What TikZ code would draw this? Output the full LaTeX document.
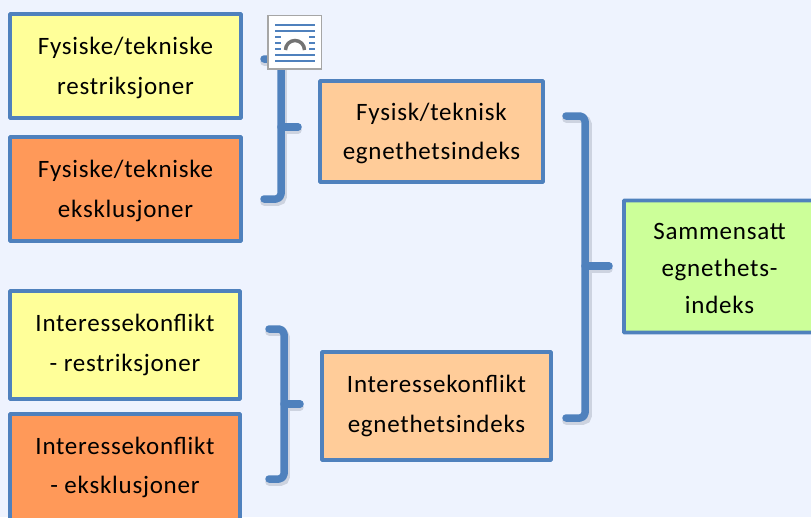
\documentclass[tikz,border=0pt]{standalone}
\usepackage{fontspec}
\setmainfont[LetterSpace=3]{Carlito}
\definecolor{bgc}{HTML}{EEF3FE}
\definecolor{edgec}{HTML}{4F81BD}
\definecolor{yel}{HTML}{FFFF99}
\definecolor{ora}{HTML}{FF9959}
\definecolor{pea}{HTML}{FFCC99}
\definecolor{gre}{HTML}{CCFF99}
\definecolor{shad}{HTML}{CDD3E0}
\tikzset{
  x=1pt,y=-1pt,
  boxn/.style={draw=edgec,line width=3.7pt,rounded corners=0.6pt,inner sep=0pt,align=center,
    font=\fontsize{25}{39.5}\selectfont,text=black},
  brk/.style={draw=edgec,line width=7.5pt,line cap=round,line join=round,rounded corners=5pt},
  brkshadow/.style={draw=shad,line width=7.5pt,line cap=round,rounded corners=5pt},
  ticon/.style={draw=edgec,line width=1.4pt},
}
\newcommand{\lift}{\rule{0pt}{21pt}}
\newcommand{\bx}[7]{\node[boxn,fill=#6,minimum width=#4-#2 pt,minimum height=#5-#3 pt] (#1) at ({(#2+#4)/2},{(#3+#5)/2}) {#7};}
\begin{document}
\begin{tikzpicture}
\useasboundingbox (0,0) rectangle (811,517);
\clip (0,0) rectangle (811,517);
\fill[bgc] (0,0) rectangle (811,517);
\bx{a}{10}{14}{241}{118}{yel}{\lift Fysiske/tekniske\\restriksjoner}
\bx{b}{10}{137}{241}{241}{ora}{\lift Fysiske/tekniske\\eksklusjoner}
\bx{c}{10}{291}{240}{399}{yel}{Interessekonflikt\\- restriksjoner}
\bx{d}{10}{414}{240}{521}{ora}{Interessekonflikt\\- eksklusjoner}
\bx{e}{320}{81}{543}{182}{pea}{\lift Fysisk/teknisk\\egnethetsindeks}
\bx{f}{322}{352}{551}{460}{pea}{Interessekonflikt\\egnethetsindeks}
\node[boxn,fill=gre,minimum width=191pt,minimum height=132pt,
  font=\fontsize{25}{37}\selectfont] (g) at (719.5,266.5) {\lift Sammensatt\\egnethets-\\indeks};
% brackets
\coordinate (b1t) at (264,59); \coordinate (b1b) at (264,199);
\coordinate (b2t) at (269,329); \coordinate (b2b) at (269,479);
\coordinate (b3t) at (566,116); \coordinate (b3b) at (566,418);
\draw[brkshadow] (264,62) -- (283,62) -- (283,202) -- (264,202);
\draw[brkshadow] (283,130) -- (298,130);
\draw[brkshadow] (269,332) -- (286,332) -- (286,482) -- (269,482);
\draw[brkshadow] (286,407) -- (300,407);
\draw[brkshadow] (566,119) -- (588,119) -- (588,421) -- (566,421);
\draw[brkshadow] (588,269) -- (609,269);
\draw[brk] (b1t) -- (281,59) -- (281,199) -- (b1b);
\draw[brk] (281,127) -- (298,127);
\draw[brk] (b2t) -- (284,329) -- (284,479) -- (b2b);
\draw[brk] (284,404) -- (300,404);
\draw[brk] (b3t) -- (585,116) -- (585,418) -- (b3b);
\draw[brk] (585,266) -- (609,266);
% layout-options icon
\draw[draw=black!35,fill=white,line width=1.6pt] (268,15.5) rectangle (321.5,69);
\draw[ticon] (275,25) -- (315,25) (275,31) -- (315,31)
  (275,37) -- (281,37) (309,37) -- (315,37)
  (275,43) -- (281,43) (309,43) -- (315,43)
  (275,49) -- (281,49) (309,49) -- (315,49)
  (275,55) -- (315,55) (275,61) -- (315,61);
\draw[draw=black!55,line width=3.5pt] (285.5,50) arc[start angle=180,end angle=360,radius=9.5];
\end{tikzpicture}
\end{document}
